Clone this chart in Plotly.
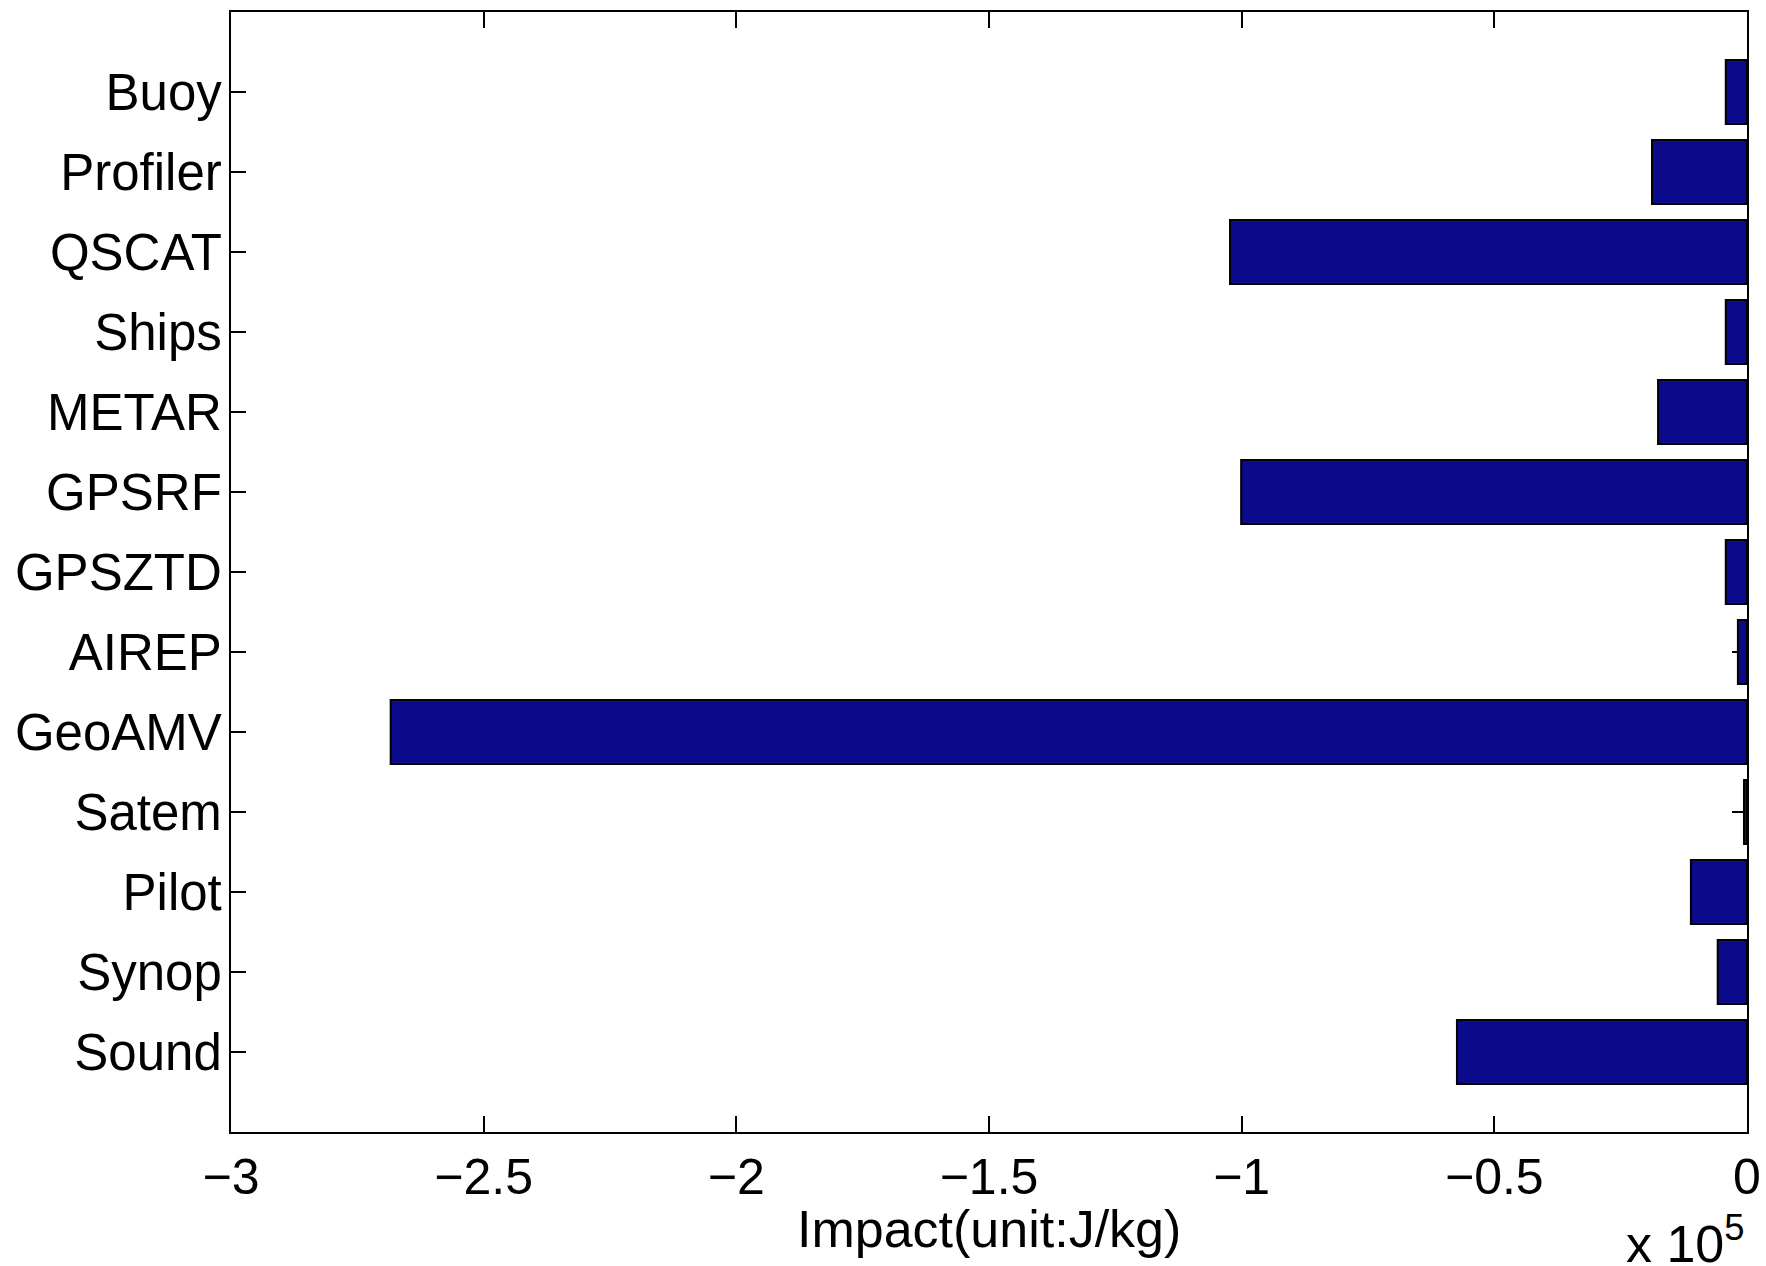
import plotly.graph_objects as go

# Categories, top to bottom as displayed
categories = ["Buoy", "Profiler", "QSCAT", "Ships", "METAR", "GPSRF", "GPSZTD",
              "AIREP", "GeoAMV", "Satem", "Pilot", "Synop", "Sound"]
# Impact values in units of 10^5 J/kg
impact = [-0.042, -0.188, -1.023, -0.042, -0.176, -1.001, -0.042,
          -0.018, -2.684, -0.006, -0.111, -0.058, -0.574]
x_ticks = [-3, -2.5, -2, -1.5, -1, -0.5, 0]

n = len(categories)
ypos = [n - i for i in range(n)]  # Buoy at top (13), Sound at bottom (1)

FONT = "Liberation Sans, Arial, Helvetica, sans-serif"

fig = go.Figure()
fig.add_trace(go.Bar(
    x=impact, y=ypos, orientation="h", width=0.8,
    marker=dict(color="rgb(10,10,138)", line=dict(color="black", width=2)),
    showlegend=False,
))

fig.update_layout(
    width=1766, height=1266,
    margin=dict(l=231, r=19, t=12, b=134, autoexpand=False),
    paper_bgcolor="white", plot_bgcolor="white",
    font=dict(family=FONT, size=50, color="black"),
    bargap=0.2,
)
fig.update_xaxes(
    range=[-3, 0], tickvals=x_ticks,
    showgrid=False, zeroline=False, automargin=False,
    showline=True, linecolor="black", linewidth=2, mirror="ticks",
    ticks="inside", ticklen=16, tickwidth=2, tickcolor="black",
    tickfont=dict(family=FONT, size=50, color="black"),
    layer="below traces",
)
fig.update_yaxes(
    range=[0, 14], tickvals=ypos, ticktext=categories,
    showgrid=False, zeroline=False, automargin=False,
    showline=True, linecolor="black", linewidth=2, mirror="ticks",
    ticks="inside", ticklen=15, tickwidth=2, tickcolor="black",
    tickfont=dict(family=FONT, size=51, color="black"),
    ticklabelstandoff=-3,
    layer="below traces",
)

fig.add_annotation(
    text="Impact(unit:J/kg)", xref="paper", yref="paper",
    x=0.5, y=-0.087, xanchor="center", yanchor="middle",
    showarrow=False, font=dict(family=FONT, size=52, color="black"),
)
fig.add_annotation(
    text="x 10<sup>5</sup>", xref="paper", yref="paper",
    x=1.0, y=-0.096, xanchor="right", yanchor="middle",
    showarrow=False, font=dict(family=FONT, size=52, color="black"),
)

fig.write_html("out.html")
